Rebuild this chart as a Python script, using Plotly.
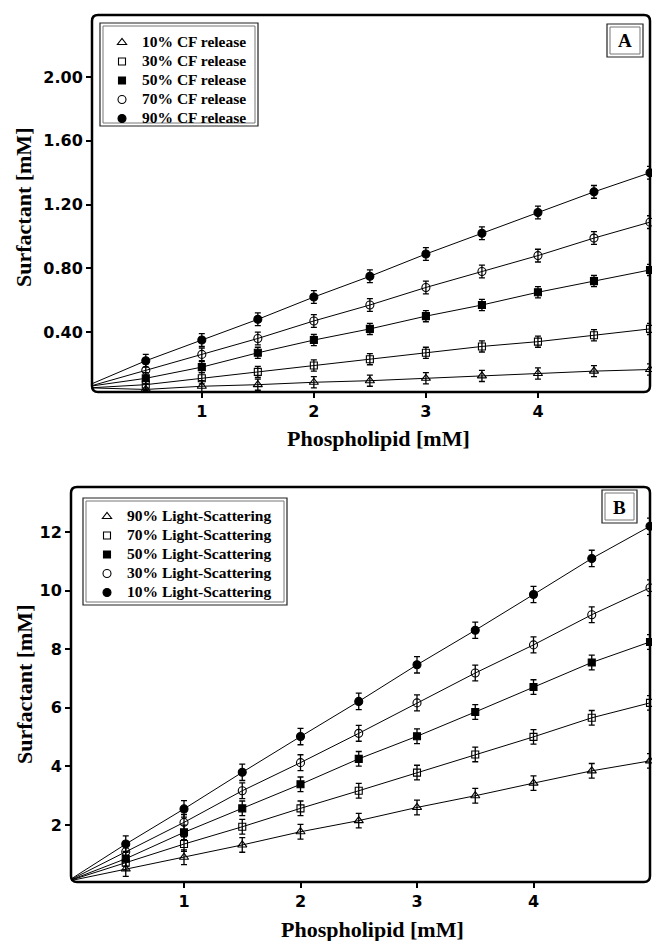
import plotly.graph_objects as go

W, H = 652, 941

# ---------------- data ----------------
X_PTS = [0.5, 1.0, 1.5, 2.0, 2.5, 3.0, 3.5, 4.0, 4.5, 5.0]

A_NAMES = ["10% CF release", "30% CF release", "50% CF release",
           "70% CF release", "90% CF release"]
A_10 = [0.04, 0.06, 0.07, 0.085, 0.095, 0.11, 0.125, 0.14, 0.155, 0.165]
A_30 = [0.07, 0.11, 0.15, 0.19, 0.23, 0.27, 0.31, 0.34, 0.38, 0.42]
A_50 = [0.11, 0.18, 0.27, 0.35, 0.42, 0.50, 0.57, 0.65, 0.72, 0.79]
A_70 = [0.16, 0.26, 0.36, 0.47, 0.57, 0.68, 0.78, 0.88, 0.99, 1.09]
A_90 = [0.22, 0.35, 0.48, 0.62, 0.75, 0.89, 1.02, 1.15, 1.28, 1.40]
A_ERR = [0.035, 0.035, 0.035, 0.04, 0.04]
A_START = [0.05, 0.05, 0.06, 0.06, 0.07]

B_NAMES = ["90% Light-Scattering", "70% Light-Scattering", "50% Light-Scattering",
           "30% Light-Scattering", "10% Light-Scattering"]
B_90 = [0.50, 0.90, 1.32, 1.77, 2.15, 2.60, 3.00, 3.43, 3.85, 4.19]
B_70 = [0.71, 1.35, 1.94, 2.57, 3.17, 3.79, 4.41, 5.01, 5.66, 6.17]
B_50 = [0.85, 1.75, 2.57, 3.39, 4.26, 5.03, 5.86, 6.71, 7.55, 8.25]
B_30 = [1.09, 2.09, 3.17, 4.13, 5.13, 6.17, 7.19, 8.15, 9.18, 10.10]
B_10 = [1.35, 2.55, 3.80, 5.02, 6.22, 7.47, 8.65, 9.87, 11.10, 12.20]
B_ERR = [0.25, 0.25, 0.25, 0.27, 0.28]
B_START = [0.08, 0.08, 0.08, 0.08, 0.08]

A_TICKS_X = [1, 2, 3, 4]
A_TICKS_Y = [0.4, 0.8, 1.2, 1.6, 2.0]
B_TICKS_X = [1, 2, 3, 4]
B_TICKS_Y = [2, 4, 6, 8, 10, 12]

SYMBOLS = ["triangle-up-open", "square-open", "square", "circle-open", "circle"]
SIZES = [8, 7, 7, 8, 8]

# ---------------- helpers ----------------
def px(x):
    return x / W

def py(y):
    return 1 - y / H

def rrect_path(x0, y0, x1, y1, r):
    pts = [
        ("M", px(x0 + r), py(y0)),
        ("L", px(x1 - r), py(y0)),
        ("Q", px(x1), py(y0), px(x1), py(y0 + r)),
        ("L", px(x1), py(y1 - r)),
        ("Q", px(x1), py(y1), px(x1 - r), py(y1)),
        ("L", px(x0 + r), py(y1)),
        ("Q", px(x0), py(y1), px(x0), py(y1 - r)),
        ("L", px(x0), py(y0 + r)),
        ("Q", px(x0), py(y0), px(x0 + r), py(y0)),
    ]
    s = ""
    for p in pts:
        cmd = p[0]
        coords = p[1:]
        s += cmd + " " + " ".join(f"{coords[i]:.5f},{coords[i+1]:.5f}" for i in range(0, len(coords), 2)) + " "
    return s + "Z"

SERIF = "Liberation Serif, Times New Roman, serif"
SANS = "DejaVu Sans, sans-serif"

fig = go.Figure()

def add_panel(series, names, errs, starts, xa, ya, legend):
    for i, (ys, nm) in enumerate(zip(series, names)):
        fig.add_trace(go.Scatter(
            x=[0.0] + X_PTS, y=[starts[i]] + ys, mode="lines",
            line=dict(color="black", width=1), showlegend=False,
            xaxis=xa, yaxis=ya, hoverinfo="skip"))
        fig.add_trace(go.Scatter(
            x=X_PTS, y=ys, mode="markers", name=f'<span style="font-size:15.5px">{nm}</span>',
            marker=dict(symbol=SYMBOLS[i], size=SIZES[i], color="black",
                        line=dict(color="black", width=1.1)),
            error_y=dict(type="constant", value=errs[i], color="black",
                         thickness=1.3, width=3),
            cliponaxis=False, xaxis=xa, yaxis=ya, legend=legend))

add_panel([A_10, A_30, A_50, A_70, A_90], A_NAMES, A_ERR, A_START, "x", "y", "legend")
add_panel([B_90, B_70, B_50, B_30, B_10], B_NAMES, B_ERR, B_START, "x2", "y2", "legend2")

axis_common = dict(showgrid=False, zeroline=False, showline=False, ticks="outside",
                   ticklen=5, tickwidth=1.5, tickcolor="black",
                   tickfont=dict(family=SANS, size=16, color="black", weight="bold"))

shapes = [
    dict(type="path", path=rrect_path(92, 15, 650, 392, 6), xref="paper", yref="paper",
         line=dict(color="black", width=2.5)),
    dict(type="path", path=rrect_path(71, 487, 650, 882, 6), xref="paper", yref="paper",
         line=dict(color="black", width=2.5)),
]

def dbl_frame(x0, y0, x1, y1):
    return [
        dict(type="rect", xref="paper", yref="paper", x0=px(x0), x1=px(x1), y0=py(y1), y1=py(y0),
             line=dict(color="#222", width=1.2), fillcolor="rgba(0,0,0,0)"),
        dict(type="rect", xref="paper", yref="paper", x0=px(x0 + 3), x1=px(x1 - 3),
             y0=py(y1 - 3), y1=py(y0 + 3),
             line=dict(color="#777", width=1), fillcolor="rgba(0,0,0,0)"),
    ]

shapes += dbl_frame(100, 23, 258, 126)
shapes += dbl_frame(83, 498, 287, 605)
shapes += dbl_frame(607, 24, 643, 57)
shapes += dbl_frame(602, 490, 637, 523)

def ann(text, x, y, size, angle=0):
    return dict(text=text, x=px(x), y=py(y), xref="paper", yref="paper",
                xanchor="center", yanchor="middle", showarrow=False, textangle=angle,
                font=dict(family=SERIF, size=size, color="black", weight="bold"))

annotations = [
    ann("Phospholipid [mM]", 378, 438, 22),
    ann("Phospholipid [mM]", 372, 929, 22),
    ann("Surfactant [mM]", 23, 208, 22, -90),
    ann("Surfactant [mM]", 24, 685, 22, -90),
    ann("A", 625, 41, 19),
    ann("B", 619.5, 507, 19),
]

legend_common = dict(bgcolor="rgba(0,0,0,0)", borderwidth=0, xanchor="left", yanchor="top",
                     font=dict(family=SERIF, size=12, color="black", weight="bold"),
                     itemwidth=30)

fig.update_layout(
    width=W, height=H, margin=dict(l=0, r=0, t=0, b=0),
    paper_bgcolor="white", plot_bgcolor="white",
    xaxis=dict(domain=[px(92), px(650)], range=[0.02, 5.0], tickvals=A_TICKS_X,
               anchor="y", **axis_common),
    yaxis=dict(domain=[py(392), py(15)], range=[0.024, 2.39], tickvals=A_TICKS_Y,
               tickformat=".2f", anchor="x", **axis_common),
    xaxis2=dict(domain=[px(71), px(650)], range=[0.03, 5.0], tickvals=B_TICKS_X,
                anchor="y2", **axis_common),
    yaxis2=dict(domain=[py(882), py(487)], range=[0.055, 13.54], tickvals=B_TICKS_Y,
                anchor="x2", **axis_common),
    legend=dict(x=px(102), y=py(28), **legend_common),
    legend2=dict(x=px(87), y=py(502), **legend_common),
    shapes=shapes, annotations=annotations,
)

fig.write_html("out.html")
